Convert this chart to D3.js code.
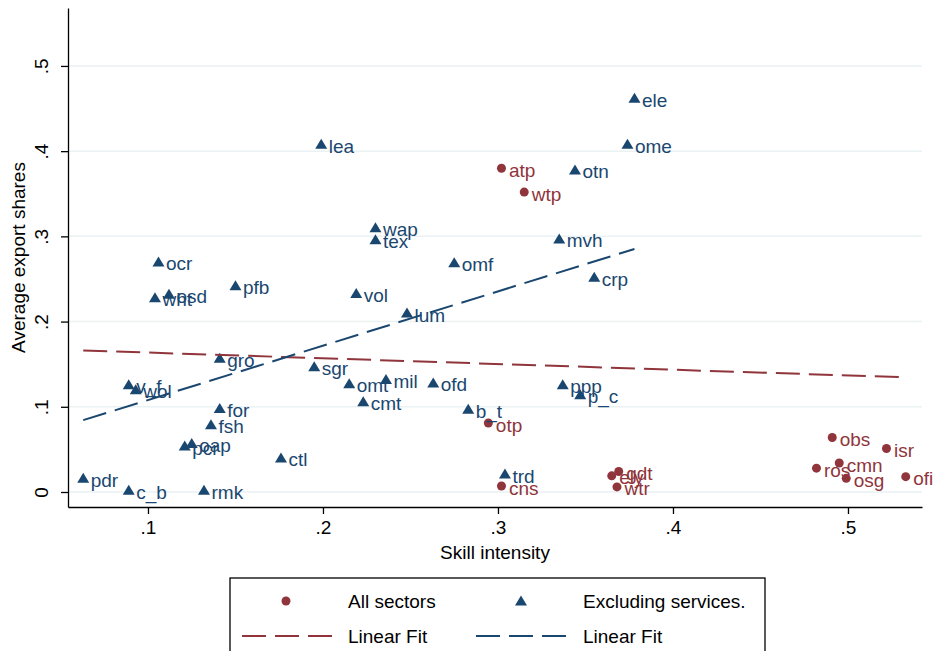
<!DOCTYPE html>
<html>
<head>
<meta charset="utf-8">
<script src="https://cdn.jsdelivr.net/npm/d3@7"></script>
<style>
body { margin: 0; background: #fff; }
text { font-family: Arial, "Liberation Sans", sans-serif; }
</style>
</head>
<body>
<svg id="chart" width="942" height="651"></svg>
<script>
// <--Data--> //
// goods sectors (blue triangles, "Excluding services.")
const goodsCodes = ["ele","lea","ome","otn","wap","tex","mvh","omf","crp","vol","lum",
  "ocr","wht","osd","pfb","gro","sgr","v_f","wol","omt","mil","ofd","ppp","p_c",
  "cmt","b_t","for","fsh","oap","pcr","ctl","trd","pdr","c_b","rmk"];
const goodsSkill = [0.378,0.199,0.374,0.344,0.230,0.230,0.335,0.275,0.355,0.219,0.248,
  0.106,0.104,0.112,0.150,0.141,0.195,0.089,0.093,0.215,0.236,0.263,0.337,0.347,
  0.223,0.283,0.141,0.136,0.125,0.121,0.176,0.304,0.063,0.089,0.132];
const goodsShare = [0.462,0.408,0.408,0.378,0.310,0.296,0.297,0.269,0.252,0.233,0.210,
  0.270,0.228,0.232,0.242,0.157,0.147,0.126,0.120,0.127,0.132,0.128,0.126,0.114,
  0.106,0.097,0.098,0.079,0.057,0.054,0.040,0.021,0.016,0.002,0.002];

// service sectors (red dots, only visible part of "All sectors")
const serviceCodes = ["atp","wtp","otp","cns","ely","gdt","wtr","obs","isr","cmn","ros","osg","ofi"];
const serviceSkill = [0.302,0.315,0.2945,0.302,0.365,0.369,0.368,0.491,0.522,0.495,0.482,0.499,0.533];
const serviceShare = [0.380,0.352,0.081,0.007,0.019,0.024,0.006,0.064,0.051,0.034,0.028,0.016,0.018];

const xTicks = [0.1, 0.2, 0.3, 0.4, 0.5];
const yTicks = [0, 0.1, 0.2, 0.3, 0.4, 0.5];
const xTitle = "Skill intensity";
const yTitle = "Average export shares";
const legendLabels = ["All sectors", "Excluding services.", "Linear Fit", "Linear Fit"];

const red = "#90353b", blue = "#1a476f";

// <--Setup--> //
var svg = d3.select("#chart");
var plotL = 68, plotR = 922, plotT = 8, plotB = 507;

var x = d3.scaleLinear().domain([0.0543, 0.5423]).range([plotL, plotR]);
var y = d3.scaleLinear().domain([-0.0176, 0.568]).range([plotB, plotT]);

const fmt = d => d === 0 ? "0" : String(d).replace(/^0/, "");

// gridlines
svg.append("g").selectAll("line")
  .data(yTicks)
  .enter().append("line")
  .attr("x1", plotL).attr("x2", plotR)
  .attr("y1", d => y(d)).attr("y2", d => y(d))
  .style("stroke", "#eaf2f3")
  .style("stroke-width", 1.5);

// axes
var yAxis = svg.append("g")
  .attr("transform", "translate(" + plotL + ",0)")
  .call(d3.axisLeft(y).tickValues(yTicks).tickFormat(fmt).tickSize(7).tickSizeOuter(0));
yAxis.selectAll("text")
  .attr("transform", "rotate(-90)")
  .attr("x", 0).attr("y", -20).attr("dy", 0)
  .attr("text-anchor", "middle")
  .style("font-size", "19px").style("fill", "#000");

var xAxis = svg.append("g")
  .attr("transform", "translate(0," + plotB + ")")
  .call(d3.axisBottom(x).tickValues(xTicks).tickFormat(fmt).tickSize(7).tickSizeOuter(0));
xAxis.selectAll("text").attr("y", 14)
  .style("font-size", "19px").style("fill", "#000");

svg.selectAll(".domain, .tick line").style("stroke", "#000").style("stroke-width", 1.3);
svg.selectAll(".tick text").style("font-family", "Arial, 'Liberation Sans', sans-serif");

svg.append("text")
  .attr("x", (plotL + plotR) / 2).attr("y", 559)
  .attr("text-anchor", "middle")
  .style("font-size", "19px")
  .text(xTitle);

svg.append("text")
  .attr("transform", "translate(25," + (plotT + plotB) / 2 + ") rotate(-90)")
  .attr("text-anchor", "middle")
  .style("font-size", "19px")
  .text(yTitle);

// <--Points--> //
const tri = "M0,-5.5L6,4.5L-6,4.5Z";

var services = serviceCodes.map((c, i) => ({code: c, sx: serviceSkill[i], sy: serviceShare[i]}));
var goods = goodsCodes.map((c, i) => ({code: c, sx: goodsSkill[i], sy: goodsShare[i]}));

var sg = svg.append("g").selectAll("g")
  .data(services)
  .enter().append("g")
  .attr("transform", d => "translate(" + x(d.sx) + "," + y(d.sy) + ")");
sg.append("circle").attr("r", 4.5).style("fill", red);
sg.append("text").attr("x", 7.5).attr("dy", "0.45em")
  .style("font-size", "19px").style("fill", red)
  .text(d => d.code);

var gg = svg.append("g").selectAll("g")
  .data(goods)
  .enter().append("g")
  .attr("transform", d => "translate(" + x(d.sx) + "," + y(d.sy) + ")");
gg.append("path").attr("d", tri).style("fill", blue);
gg.append("text").attr("x", 7.5).attr("dy", "0.45em")
  .style("font-size", "19px").style("fill", blue)
  .text(d => d.code);

// <--Linear fits--> //
function fit(xs, ys) {
  var mx = d3.mean(xs), my = d3.mean(ys);
  var sxy = d3.sum(xs, (v, i) => (v - mx) * (ys[i] - my));
  var sxx = d3.sum(xs, v => (v - mx) * (v - mx));
  var b = sxy / sxx, a = my - b * mx;
  var ext = d3.extent(xs);
  return ext.map(v => [v, a + b * v]);
}

var allSkill = goodsSkill.concat(serviceSkill);
var allShare = goodsShare.concat(serviceShare);
var line = d3.line().x(d => x(d[0])).y(d => y(d[1]));

svg.append("path")
  .attr("d", line(fit(allSkill, allShare)))
  .style("fill", "none").style("stroke", red)
  .style("stroke-width", 2).style("stroke-dasharray", "24,9");

svg.append("path")
  .attr("d", line(fit(goodsSkill, goodsShare)))
  .style("fill", "none").style("stroke", blue)
  .style("stroke-width", 2).style("stroke-dasharray", "24,9");

// <--Legend--> //
var lg = svg.append("g");
lg.append("rect")
  .attr("x", 230).attr("y", 578).attr("width", 535).attr("height", 90)
  .style("fill", "#fff").style("stroke", "#000").style("stroke-width", 1.3);

lg.append("circle").attr("cx", 286).attr("cy", 601).attr("r", 4.5).style("fill", red);
lg.append("path").attr("d", tri).attr("transform", "translate(521,601)").style("fill", blue);
lg.append("line").attr("x1", 242).attr("x2", 332).attr("y1", 636).attr("y2", 636)
  .style("stroke", red).style("stroke-width", 2).style("stroke-dasharray", "24,9");
lg.append("line").attr("x1", 476).attr("x2", 567).attr("y1", 636).attr("y2", 636)
  .style("stroke", blue).style("stroke-width", 2).style("stroke-dasharray", "24,9");

var legendPos = [[348, 601], [583, 601], [348, 636], [583, 636]];
lg.selectAll("text.lab")
  .data(legendLabels)
  .enter().append("text")
  .attr("class", "lab")
  .attr("x", (d, i) => legendPos[i][0])
  .attr("y", (d, i) => legendPos[i][1])
  .attr("dy", "0.36em")
  .style("font-size", "19px")
  .text(d => d);
</script>
</body>
</html>
